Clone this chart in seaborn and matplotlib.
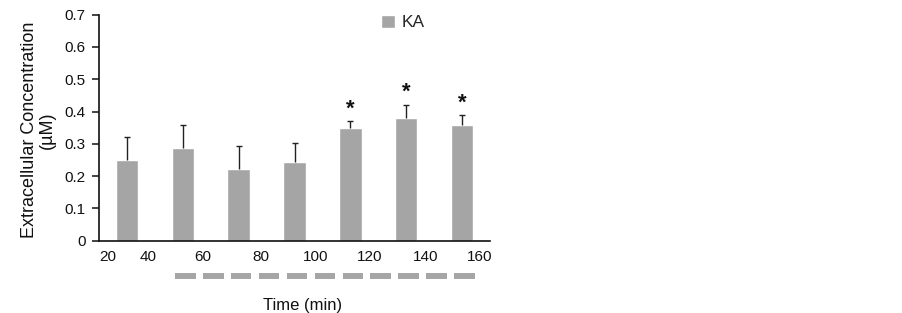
import matplotlib
matplotlib.use("Agg")
import matplotlib.pyplot as plt
import seaborn as sns
import pandas as pd
import numpy as np

# Data
categories = ["t1", "t2", "t3", "t4", "t5", "t6", "t7"]
values = [0.25, 0.287, 0.222, 0.243, 0.350, 0.381, 0.357]
errors = [0.070, 0.071, 0.071, 0.060, 0.020, 0.040, 0.031]
significant = [False, False, False, False, True, True, True]
tick_labels = ["20", "40", "60", "80", "100", "120", "140", "160"]
tick_positions = [-0.35, 0.38, 1.36, 2.39, 3.37, 4.34, 5.35, 6.32]
ytick_values = [0, 0.1, 0.2, 0.3, 0.4, 0.5, 0.6, 0.7]
ytick_labels = ["0", "0.1", "0.2", "0.3", "0.4", "0.5", "0.6", "0.7"]
n_dashes = 11

sns.set_style("white")
plt.rcParams["font.family"] = ["Liberation Sans", "DejaVu Sans"]

df = pd.DataFrame({"cat": categories, "val": values})

fig = plt.figure(figsize=(9.02, 3.13), dpi=100)
ax = fig.add_axes([99 / 902, 1 - 240.7 / 313, 391 / 902, (240.7 - 14.7) / 313])

bar_color = "#A5A5A5"
sns.barplot(data=df, x="cat", y="val", color=bar_color, width=0.4,
            errorbar=None, ax=ax, label="KA", saturation=1)

xpos = np.arange(len(categories))
eb = ax.errorbar(xpos, values, yerr=[np.zeros(len(errors)), errors], fmt="none",
                 ecolor="#222222", elinewidth=1.0, capsize=2.2, capthick=1.0,
                 zorder=3)
caplines = eb[1]
if len(caplines) >= 2:
    caplines[0].set_visible(False)

for x, v, e, s in zip(xpos, values, errors, significant):
    if s:
        ax.text(x, v + e + 0.006, "*", ha="center", va="bottom",
                fontsize=16, fontweight="bold", color="#111111")

ax.set_xlim(-0.5, len(categories) - 0.5)
ax.set_ylim(0, 0.7)
ax.set_yticks(ytick_values)
ax.set_yticklabels(ytick_labels)
ax.set_xticks(tick_positions)
ax.set_xticklabels(tick_labels)
ax.tick_params(axis="x", length=0, pad=7, labelsize=11, colors="#111111")
ax.tick_params(axis="y", length=5, width=1.1, direction="out", pad=4.5,
               labelsize=11, colors="#111111", left=True)

for side in ["top", "right"]:
    ax.spines[side].set_visible(False)
for side in ["left", "bottom"]:
    ax.spines[side].set_color("#111111")
    ax.spines[side].set_linewidth(1.2)

ax.set_ylabel("Extracellular Concentration\n(\u00b5M)", fontsize=13,
              color="#111111", linespacing=1.05)
ax.yaxis.set_label_coords(-0.11, 0.49)
ax.set_xlabel("Time (min)", fontsize=12, color="#111111")
ax.xaxis.set_label_coords((303 - 99) / 391, -0.255)

# Treatment dashes below the axis
trans = ax.get_xaxis_transform()
dash_y = -(275.5 - 240.7) / 226
for i in range(n_dashes):
    x0 = 0.86 + 0.5 * i
    ax.plot([x0, x0 + 0.37], [dash_y, dash_y], color=bar_color, lw=4.3,
            solid_capstyle="butt", transform=trans, clip_on=False)

leg = ax.legend(loc="upper left", bbox_to_anchor=(0.722, 1.0), frameon=False,
                fontsize=12.5, handlelength=0.8, handleheight=0.8,
                handletextpad=0.35, borderpad=0, borderaxespad=0)

fig.savefig("out.png", dpi=100)
